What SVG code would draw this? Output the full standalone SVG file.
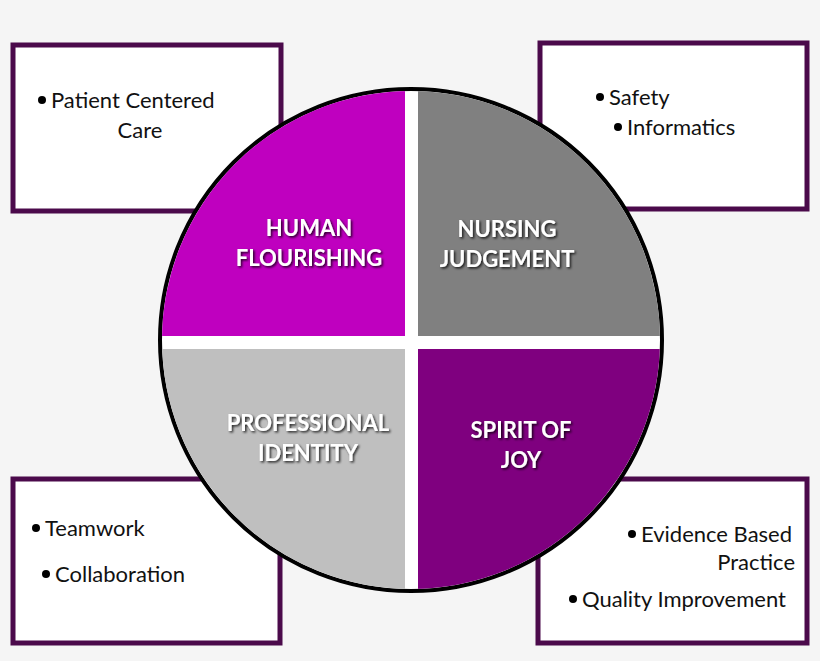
<svg xmlns="http://www.w3.org/2000/svg" width="820" height="661" viewBox="0 0 820 661">
<defs>
<style>
.box{fill:#fff;stroke:#4b0a4b;stroke-width:5}
.t{font-family:Lato,"Liberation Sans",sans-serif;font-size:22px;fill:#111}
.q{font-family:Lato,"Liberation Sans",sans-serif;font-size:22px;font-weight:bold;fill:#fff;text-anchor:middle;filter:url(#sh)}
</style>
<filter id="sh" x="-20%" y="-20%" width="140%" height="140%"><feDropShadow dx="1.5" dy="1.5" stdDeviation="1.2" flood-color="#000" flood-opacity="0.8"/></filter>
<clipPath id="c"><circle cx="411" cy="340" r="249"/></clipPath>
</defs>
<rect width="820" height="661" fill="#f5f5f5"/>
<g id="box-tl"><rect class="box" x="13" y="45" width="268" height="166"/><circle cx="42" cy="100" r="4"/><text class="t" x="51" y="108">Patient Centered</text><text class="t" x="140" y="138" text-anchor="middle">Care</text></g>
<g id="box-tr"><rect class="box" x="540" y="43" width="267" height="166"/><circle cx="600" cy="97" r="4"/><text class="t" x="609" y="105">Safety</text><circle cx="618" cy="127" r="4"/><text class="t" x="627" y="135">Informatics</text></g>
<g id="box-bl"><rect class="box" x="13" y="479" width="267" height="164"/><circle cx="36" cy="528" r="4"/><text class="t" x="45" y="536">Teamwork</text><circle cx="46" cy="574" r="4"/><text class="t" x="55" y="582">Collaboration</text></g>
<g id="box-br"><rect class="box" x="538" y="479" width="269" height="164"/><circle cx="632" cy="534" r="4"/><text class="t" x="641" y="542">Evidence Based</text><text class="t" x="795" y="570" text-anchor="end">Practice</text><circle cx="573" cy="599" r="4"/><text class="t" x="582" y="607">Quality Improvement</text></g>
<g id="circle">
<circle cx="411" cy="340" r="251" fill="#fff" stroke="#000" stroke-width="4"/>
<g clip-path="url(#c)">
<rect x="150" y="80" width="255" height="256" fill="#bf00bf"/>
<rect x="418" y="80" width="260" height="256" fill="#808080"/>
<rect x="150" y="349" width="255" height="260" fill="#bfbfbf"/>
<rect x="418" y="349" width="260" height="260" fill="#7f007f"/>
</g>
</g>
<g id="q-hf"><text class="q" x="309" y="236">HUMAN</text><text class="q" x="309" y="266">FLOURISHING</text></g>
<g id="q-nj"><text class="q" x="507" y="237">NURSING</text><text class="q" x="507" y="267">JUDGEMENT</text></g>
<g id="q-pi"><text class="q" x="308" y="431">PROFESSIONAL</text><text class="q" x="308" y="461">IDENTITY</text></g>
<g id="q-sj"><text class="q" x="521" y="438">SPIRIT OF</text><text class="q" x="521" y="468">JOY</text></g>
<g id="connectors"/>
</svg>
